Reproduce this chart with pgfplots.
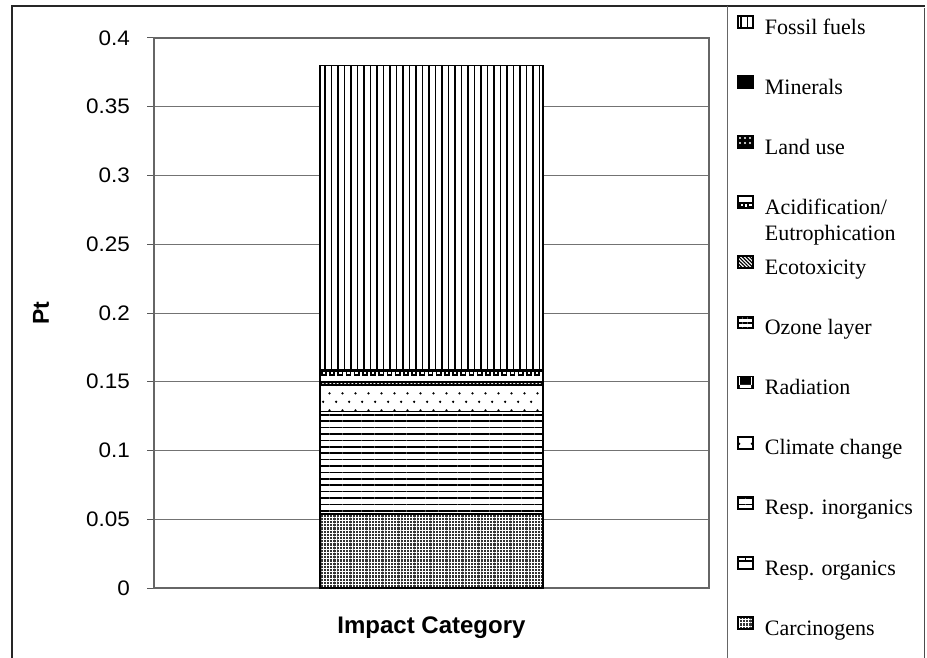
\documentclass[border=0pt]{standalone}
\usepackage{pgfplots}
\pgfplotsset{compat=1.18}
\usepackage{pgfplotstable}
\usepackage{fontspec}
\setmainfont{Liberation Serif}
\newfontfamily\arialfont{Liberation Sans}
\usetikzlibrary{patterns,patterns.meta}

% staggered sparse dots
\pgfdeclarepatternformonly{sparse dots}{\pgfpointorigin}{\pgfqpoint{6.4pt}{8.4pt}}{\pgfqpoint{6.4pt}{8.4pt}}{%
  \pgfpathcircle{\pgfqpoint{1.6pt}{2.1pt}}{0.65pt}%
  \pgfpathcircle{\pgfqpoint{4.8pt}{6.3pt}}{0.65pt}%
  \pgfusepath{fill}}
% meander band
\pgfdeclarepatternformonly{meander}{\pgfqpoint{-0.1pt}{-0.1pt}}{\pgfqpoint{4.2pt}{6.1pt}}{\pgfqpoint{4.1pt}{6pt}}{%
  \pgfsetlinewidth{0.8pt}%
  \pgfpathmoveto{\pgfqpoint{0pt}{5.4pt}}\pgfpathlineto{\pgfqpoint{4.1pt}{5.4pt}}%
  \pgfpathmoveto{\pgfqpoint{1pt}{5.4pt}}\pgfpathlineto{\pgfqpoint{1pt}{3.4pt}}%
  \pgfpathlineto{\pgfqpoint{3.1pt}{3.4pt}}\pgfpathlineto{\pgfqpoint{3.1pt}{5.4pt}}%
  \pgfusepath{stroke}}

% Single weighted score, split by impact category
\pgfplotstableread{
x carc resporg respinorg climate radiation ozone ecotox acid landuse minerals fossil
0 0.0535 0.0003 0.0745 0.0195 0 0.0002 0.0020 0.0080 0.0006 0.0004 0.2210
}\impact

\begin{document}
\begin{tikzpicture}
\useasboundingbox (0pt,0pt) rectangle (463.5pt,-329pt);
\begin{axis}[
  at={(77pt,-294pt)}, anchor=south west,
  scale only axis, width=277.5pt, height=275pt,
  xmin=-0.5, xmax=0.5, ymin=0, ymax=0.4,
  ybar stacked, bar width=111.2pt,
  xtick=\empty,
  ytick={0,0.05,0.1,0.15,0.2,0.25,0.3,0.35,0.4},
  /pgf/number format/fixed, /pgf/number format/precision=2,
  /pgf/number format/assume math mode=true,
  yticklabel style={font=\arialfont\fontsize{10.5}{12}\selectfont, xscale=1.07, anchor=east, xshift=-4.5pt},
  ytick pos=left, tick align=outside, major tick length=3.5pt,
  ytick style={black!65, line width=0.5pt},
  ymajorgrids, major grid style={black!55, line width=0.5pt},
  axis line style={black!60, line width=0.6pt},
  ylabel={Pt},
  ylabel style={at={(axis description cs:-0.2036,0.5)}, anchor=center, font=\arialfont\bfseries\fontsize{11.5}{13}\selectfont},
  xlabel={Impact Category},
  xlabel style={at={(axis description cs:0.5,-0.0727)}, anchor=center, font=\arialfont\bfseries\fontsize{12}{14}\selectfont},
  every axis plot/.append style={draw=black, line width=0.8pt},
  legend image code/.code={\draw[#1, line width=0.9pt] (0pt,0.6pt) rectangle (7.5pt,6.6pt);},
  reverse legend, legend cell align=left,
  legend style={at={(axis description cs:1.0505,1.0418)}, anchor=north west,
    draw=none, fill=none, inner sep=0pt, outer sep=0pt,
    row sep=18pt, column sep=5.5pt, font=\fontsize{11}{13}\selectfont,
    nodes={inner sep=0pt, text height=7.5pt, text depth=2.5pt}},
]
\addplot[fill=black!80, postaction={pattern={Hatch[distance=1.6pt, line width=0.35pt]}, pattern color=white}] table[x=x, y=carc] {\impact};
\addplot[fill=white, postaction={pattern=bricks}] table[x=x, y=resporg] {\impact};
\addplot[fill=white, postaction={pattern={Lines[angle=0, distance=3.2pt, line width=0.8pt]}}] table[x=x, y=respinorg] {\impact};
\addplot[fill=white, postaction={pattern=sparse dots}] table[x=x, y=climate] {\impact};
\addplot[fill=black, postaction={pattern=checkerboard, pattern color=white}] table[x=x, y=radiation] {\impact};
\addplot[fill=white, postaction={pattern={Lines[angle=0, distance=2.5pt, line width=0.8pt]}}] table[x=x, y=ozone] {\impact};
\addplot[fill=white, postaction={pattern={Lines[angle=-45, distance=1.3pt, line width=0.6pt]}}] table[x=x, y=ecotox] {\impact};
\addplot[fill=white, postaction={pattern=meander}] table[x=x, y=acid] {\impact};
\addplot[fill=black, postaction={pattern={Dots[distance=2.5pt, radius=0.55pt]}, pattern color=white}] table[x=x, y=landuse] {\impact};
\addplot[fill=black] table[x=x, y=minerals] {\impact};
\addplot[fill=white, postaction={pattern={Lines[angle=90, distance=3.25pt, line width=0.7pt]}}] table[x=x, y=fossil] {\impact};
\legend{Carcinogens, Resp. organics, Resp. inorganics, Climate change, Radiation, Ozone layer, Ecotoxicity,
  {\smash{\begin{tabular}[t]{@{}l@{}}Acidification/\\Eutrophication\end{tabular}}},
  Land use, Minerals, Fossil fuels}
\end{axis}
% frame around chart and legend panel
\draw[black!85, line width=1pt] (5.5pt,-2.8pt) -- (462.3pt,-2.8pt);
\draw[black!85, line width=1pt] (6pt,-2.8pt) -- (6pt,-329pt);
\draw[black!70, line width=0.6pt] (462.3pt,-4pt) -- (462.3pt,-329pt);
\draw[black!60, line width=0.5pt] (363.5pt,-2.8pt) -- (363.5pt,-329pt);
\end{tikzpicture}
\end{document}
